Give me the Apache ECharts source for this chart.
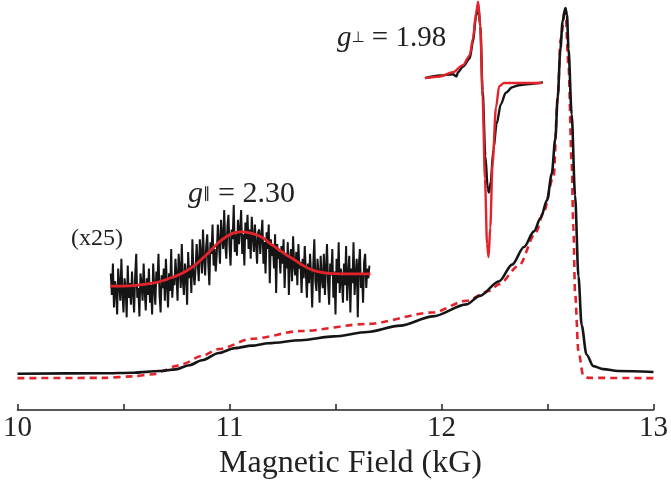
<!DOCTYPE html>
<html>
<head>
<meta charset="utf-8">
<script src="https://cdn.jsdelivr.net/npm/echarts@6/dist/echarts.min.js"></script>
<style>html,body{margin:0;padding:0;background:#fff;}#c{width:671px;height:485px;}</style>
</head>
<body>
<div id="c"></div>
<script>
// ---- Data (field in kG, intensity in arbitrary units) ----
const tickLabels = [10, 11, 12, 13];

// Experimental spectrum (black, solid)
const expField = [10.0, 10.405, 10.545, 10.67, 10.746, 10.81, 10.87, 10.95, 11.025, 11.105, 11.184, 11.338, 11.492, 11.651, 11.805, 11.959, 12.118, 12.18, 12.272, 12.333, 12.389, 12.436, 12.468, 12.498, 12.52, 12.537, 12.548, 12.561, 12.571, 12.584, 12.592, 12.599, 12.614, 12.630, 12.646, 12.661, 12.684, 12.716, 12.763, 12.833, 13.0];
const expSignal = [37.3, 37.7, 38.3, 40, 41.7, 46, 51, 58.5, 63.5, 66, 68.5, 71.5, 75.5, 80, 86.5, 96, 108.3, 117, 132, 149, 167, 183, 197, 215, 242, 278, 320, 370, 398, 411.7, 405, 370, 303, 220, 137, 87, 57, 45, 42, 40, 39];

// Simulation (red, dashed)
const simField = [10.0, 10.405, 10.545, 10.64, 10.685, 10.746, 10.78, 10.87, 10.95, 11.105, 11.338, 11.651, 11.959, 12.118, 12.226, 12.272, 12.365, 12.445, 12.482, 12.529, 12.548, 12.562, 12.584, 12.599, 12.614, 12.622, 12.630, 12.646, 12.669, 12.692, 13.0];
const simSignal = [32.7, 33, 34.5, 36.7, 40, 45, 47.5, 55.5, 62.5, 73, 81, 88.3, 100, 112, 122, 129, 148, 182, 203, 240, 320, 380, 411.7, 353, 253, 187, 120, 60, 35, 33, 32.7];

// Inset (x25): noisy trace, sampled every 0.005 kG from 10.44
const noiseStart = 10.44;
const noiseStep = 0.005;
const noiseSignal = [
  140,118,150,105,132,122,98,145,128,112,155,120,100,135,125,95,148,115,130,108,
  142,120,100,138,160,115,125,96,140,130,112,150,122,102,135,118,145,110,128,98,
  150,125,108,142,130,160,118,100,138,125,145,112,155,128,105,140,122,165,115,135,
  128,155,138,112,160,145,125,170,132,118,150,140,108,162,135,148,120,175,140,128,
  145,170,150,132,175,160,140,185,155,138,168,180,150,128,172,160,190,148,165,142,
  160,190,172,150,195,178,165,205,170,155,188,200,168,148,185,175,210,162,180,158,
  195,170,185,205,160,180,148,192,175,200,165,185,155,198,178,162,190,170,150,182,
  185,160,178,195,150,172,140,182,165,190,130,175,158,168,145,180,120,170,155,162,
  140,168,150,175,125,160,145,172,118,155,165,132,178,148,138,162,128,170,145,152,
  120,155,135,168,142,115,150,130,160,138,105,148,175,132,122,155,140,110,158,135,
  125,160,118,145,170,130,108,150,138,165,115,142,98,155,130,172,120,145,135,110,
  150,128,168,112,140,158,100,145,130,172,118,138,155,95,148,165,125,140,110,152,
  160,125,145,135,148
];
// Inset (x25): Gaussian fit (red)
const fitField = [10.437, 10.498, 10.568, 10.638, 10.685, 10.717, 10.755, 10.792, 10.834, 10.871, 10.909, 10.951, 10.988, 11.021, 11.058, 11.096, 11.133, 11.161, 11.189, 11.222, 11.268, 11.306, 11.348, 11.385, 11.423, 11.469, 11.525, 11.595, 11.665];
const fitSignal = [127, 127, 128, 130, 132.5, 135, 138, 142, 148, 155, 163, 172, 178, 181.5, 182.5, 181.5, 179, 176, 171, 166, 159, 154, 148, 144, 141.5, 140, 139.5, 139.5, 139.5];

// Inset g-perp: derivative spectrum, experiment (black) and fit (red)
const derivField = [11.922, 11.992, 12.054, 12.070, 12.078, 12.101, 12.133, 12.148, 12.163, 12.173, 12.183, 12.194, 12.207, 12.218, 12.224, 12.232, 12.245, 12.260, 12.280, 12.303, 12.334, 12.365, 12.412, 12.459, 12.478];
const derivSignal = [340, 342.7, 344, 341.7, 346, 351.7, 360, 376.7, 403.3, 415, 393.3, 327, 260, 226.7, 222.7, 233.3, 267, 293.3, 313.3, 325, 330.7, 332.7, 334, 335, 336];
const derivFitField = [11.922, 11.992, 12.054, 12.101, 12.133, 12.148, 12.163, 12.173, 12.183, 12.194, 12.205, 12.215, 12.222, 12.230, 12.241, 12.257, 12.272, 12.295, 12.474];
const derivFitSignal = [340, 341.7, 346, 353.3, 363.3, 380, 406.7, 418.3, 393.3, 320, 237, 170, 156.7, 187, 253.3, 310, 331.7, 335, 335];

// ---- Build ----
const zip = (xs, ys) => xs.map((x, i) => [x, ys[i]]);
const noiseData = noiseSignal.map((v, i) => [+(noiseStart + i * noiseStep).toFixed(4), v]);

const BLACK = '#151515';
const RED = '#e2232b';
const SERIF = "'Liberation Serif', 'Times New Roman', 'DejaVu Serif', serif";

const chart = echarts.init(document.getElementById('c'), null, {renderer: 'canvas'});
chart.setOption({
  animation: false,
  backgroundColor: '#ffffff',
  grid: {left: 13, right: 15, top: 0, bottom: 65, containLabel: false},
  xAxis: {
    type: 'value', min: 10, max: 13, interval: 0.5,
    name: 'Magnetic Field (kG)', nameLocation: 'middle', nameGap: 28,
    nameTextStyle: {fontFamily: SERIF, fontSize: 32, color: '#222', padding: [0, 0, 0, 30]},
    axisLine: {show: true, lineStyle: {color: '#222', width: 1.5}},
    axisTick: {show: true, inside: true, length: 6, lineStyle: {color: '#222', width: 1.5}},
    axisLabel: {
      fontFamily: SERIF, fontSize: 29, color: '#222', margin: 4,
      formatter: v => (tickLabels.indexOf(v) >= 0 ? String(v) : '')
    },
    splitLine: {show: false}
  },
  yAxis: {type: 'value', min: 0, max: 420, show: false, splitLine: {show: false}},
  series: [
    {type: 'line', name: 'simulation', data: zip(simField, simSignal), showSymbol: false,
     smooth: 0.3, smoothMonotone: 'x', lineStyle: {color: RED, width: 2.6, type: [7, 5]}, z: 2},
    {type: 'line', name: 'experiment', data: zip(expField, expSignal), showSymbol: false,
     smooth: 0.3, smoothMonotone: 'x', lineStyle: {color: BLACK, width: 2.6}, z: 3},
    {type: 'line', name: 'x25 data', data: noiseData, showSymbol: false,
     lineStyle: {color: BLACK, width: 2}, z: 4},
    {type: 'line', name: 'x25 fit', data: zip(fitField, fitSignal), showSymbol: false,
     smooth: 0.4, lineStyle: {color: RED, width: 2.8}, z: 5},
    {type: 'line', name: 'deriv data', data: zip(derivField, derivSignal), showSymbol: false,
     smooth: 0.3, smoothMonotone: 'x', lineStyle: {color: BLACK, width: 2.4}, z: 6},
    {type: 'line', name: 'deriv fit', data: zip(derivFitField, derivFitSignal), showSymbol: false,
     smooth: 0.3, smoothMonotone: 'x', lineStyle: {color: RED, width: 2.4}, z: 7}
  ],
  graphic: [
    {type: 'text', left: 188, top: 179, z: 10, style: {
      text: '{g|g}{s|∥}{t| = 2.30}',
      rich: {
        g: {fontFamily: SERIF, fontSize: 30, fontStyle: 'italic', fill: '#222'},
        s: {fontFamily: "'DejaVu Sans', sans-serif", fontSize: 15, fill: '#222'},
        t: {fontFamily: SERIF, fontSize: 30, fill: '#222'}
      }}},
    {type: 'text', left: 337, top: 24, z: 10, style: {
      text: '{g|g}{s|⊥}{t| = 1.98}',
      rich: {
        g: {fontFamily: SERIF, fontSize: 29, fontStyle: 'italic', fill: '#222'},
        s: {fontFamily: "'DejaVu Sans', sans-serif", fontSize: 15, fill: '#222'},
        t: {fontFamily: SERIF, fontSize: 29, fill: '#222'}
      }}},
    {type: 'text', left: 71, top: 227, z: 10, style: {
      text: '(x25)', font: "24px 'Liberation Serif', 'Times New Roman', serif", fill: '#222'}}
  ]
});
</script>
</body>
</html>
